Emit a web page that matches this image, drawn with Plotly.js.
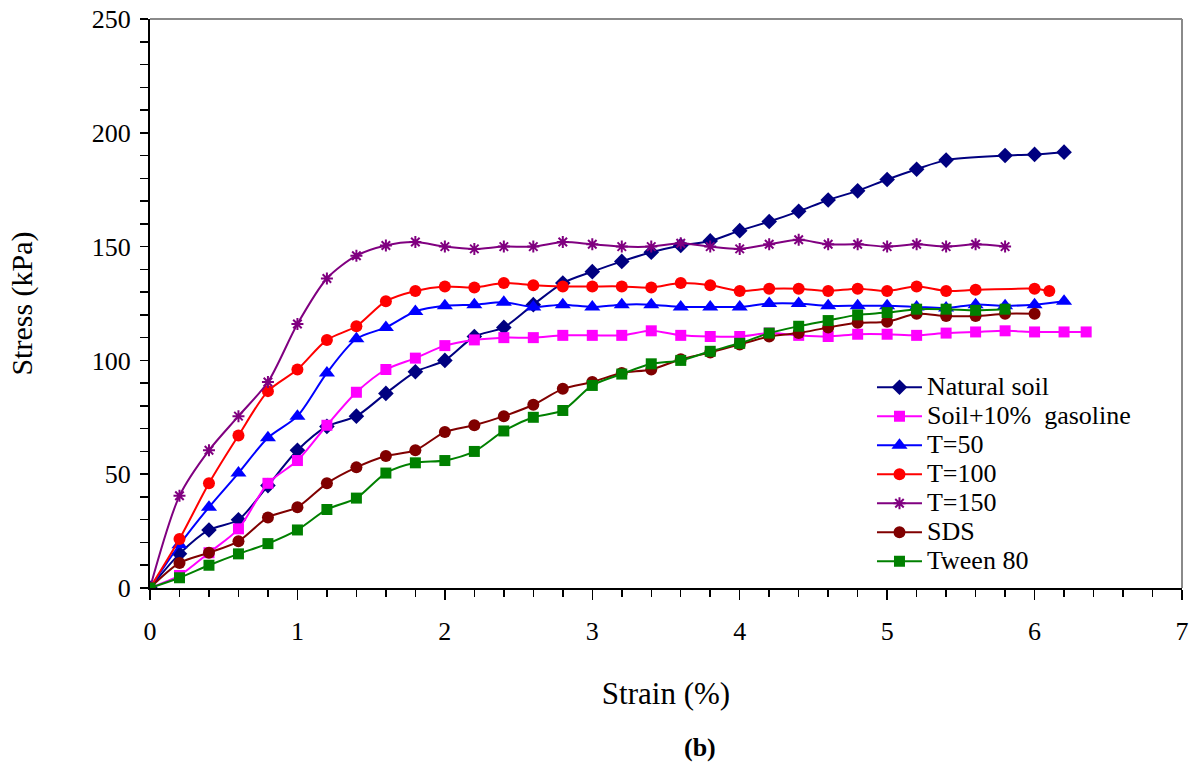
<!DOCTYPE html>
<html>
<head>
<meta charset="utf-8">
<script src="https://cdn.plot.ly/plotly-3.0.1.min.js"></script>
<style>html,body{margin:0;padding:0;background:#fff;}#chart{width:1197px;height:763px;}</style>
</head>
<body>
<div id="chart"></div>
<script>
// Strain (%) values
const naturalX = [0,0.2,0.4,0.6,0.8,1.0,1.2,1.4,1.6,1.8,2.0,2.2,2.4,2.6,2.8,3.0,3.2,3.4,3.6,3.8,4.0,4.2,4.4,4.6,4.8,5.0,5.2,5.4,5.8,6.0,6.2];
const naturalY = [0,15,25.5,30,45,60.5,71,75.5,85.5,95,100,110.5,114.5,124.5,134,139,143.5,147.5,150.5,152.5,157,161,165.5,170.5,174.5,179.5,184,188,190,190.5,191.5];

const gasolineX = [0,0.2,0.4,0.6,0.8,1.0,1.2,1.4,1.6,1.8,2.0,2.2,2.4,2.6,2.8,3.0,3.2,3.4,3.6,3.8,4.0,4.2,4.4,4.6,4.8,5.0,5.2,5.4,5.6,5.8,6.0,6.2,6.35];
const gasolineY = [0,5.5,15.5,26,46,56,71.5,86,96,101,106.5,109,110,110,111,111,111,113,111,110.5,110.5,112,111,110.5,111.5,111.5,111,112,112.5,113,112.5,112.5,112.5];

const t50X = [0,0.2,0.4,0.6,0.8,1.0,1.2,1.4,1.6,1.8,2.0,2.2,2.4,2.6,2.8,3.0,3.2,3.4,3.6,3.8,4.0,4.2,4.4,4.6,4.8,5.0,5.2,5.4,5.6,5.8,6.0,6.2];
const t50Y = [0,19,35.5,50.5,66,75.5,94.5,109.5,114.5,121.5,124,124.5,125.5,123.5,124.5,123.5,124.5,124.5,123.5,123.5,123.5,125,125,124,124,124,123.5,123,124.5,124,124.5,126];

const t100X = [0,0.2,0.4,0.6,0.8,1.0,1.2,1.4,1.6,1.8,2.0,2.2,2.4,2.6,2.8,3.0,3.2,3.4,3.6,3.8,4.0,4.2,4.4,4.6,4.8,5.0,5.2,5.4,5.6,6.0,6.1];
const t100Y = [0,21.5,46,67,86.5,96,109,115,126,130.5,132.5,132,134,133,132.5,132.5,132.5,132,134,133,130.5,131.5,131.5,130.5,131.5,130.5,132.5,130.5,131,131.5,130.5];

const t150X = [0,0.2,0.4,0.6,0.8,1.0,1.2,1.4,1.6,1.8,2.0,2.2,2.4,2.6,2.8,3.0,3.2,3.4,3.6,3.8,4.0,4.2,4.4,4.6,4.8,5.0,5.2,5.4,5.6,5.8];
const t150Y = [0,40.5,60.5,75.5,90.5,116,136,146,150.5,152,150,149,150,150,152,151,150,150,151.5,150,149,151,153,151,151,150,151,150,151,150];

const sdsX = [0,0.2,0.4,0.6,0.8,1.0,1.2,1.4,1.6,1.8,2.0,2.2,2.4,2.6,2.8,3.0,3.2,3.4,3.6,3.8,4.0,4.2,4.4,4.6,4.8,5.0,5.2,5.4,5.6,5.8,6.0];
const sdsY = [0,11,15.5,20.5,31,35.5,46,53,58,60.5,68.5,71.5,75.5,80.5,87.5,90.5,94.5,96,100.5,103.5,107,110.5,112,114.5,116.5,117,120.5,119.5,119.5,120.5,120.5];

const tweenX = [0,0.2,0.4,0.6,0.8,1.0,1.2,1.4,1.6,1.8,2.0,2.2,2.4,2.6,2.8,3.0,3.2,3.4,3.6,3.8,4.0,4.2,4.4,4.6,4.8,5.0,5.2,5.4,5.6,5.8];
const tweenY = [0,4.5,10,15,19.5,25.5,34.5,39.5,50.5,55,56,60,69,75,78,89,94,98.5,100,104,107.5,112,115,117.5,120,121,122.5,122.5,122,122.5];

const seriesNames = ["Natural soil","Soil+10%  gasoline","T=50","T=100","T=150","SDS","Tween 80"];
const xTickVals = [0,1,2,3,4,5,6,7];
const yTickVals = [0,50,100,150,200,250];

const FONT = "Liberation Serif, Times New Roman, serif";

function tr(name, x, y, color, symbol, size, extra) {
  const m = {color: color, symbol: symbol, size: size};
  if (extra) Object.assign(m, extra);
  return {
    type: 'scatter', mode: 'lines+markers',
    name: '<span style="font-size:26px">' + name + '</span>',
    x: x, y: y,
    line: {color: color, width: 2, shape: 'spline', smoothing: 0.8},
    marker: m
  };
}

const data = [
  tr(seriesNames[0], naturalX, naturalY, '#000080', 'diamond', 12),
  tr(seriesNames[1], gasolineX, gasolineY, '#FF00FF', 'square', 11),
  tr(seriesNames[2], t50X, t50Y, '#0000FF', 'triangle-up', 14),
  tr(seriesNames[3], t100X, t100Y, '#FF0000', 'circle', 12),
  tr(seriesNames[4], t150X, t150Y, '#800080', 'asterisk-open', 10, {line: {color: '#800080', width: 2}}),
  tr(seriesNames[5], sdsX, sdsY, '#800000', 'circle', 12),
  tr(seriesNames[6], tweenX, tweenY, '#008000', 'square', 11)
];

const layout = {
  width: 1197, height: 763,
  margin: {l: 150, r: 15, t: 19, b: 175},
  paper_bgcolor: '#fff', plot_bgcolor: '#fff',
  font: {family: FONT, color: '#000', size: 26},
  showlegend: true,
  legend: {
    x: 0.6996, y: 0.387, xanchor: 'left', yanchor: 'top',
    bgcolor: 'rgba(0,0,0,0)', borderwidth: 0,
    font: {family: FONT, size: 20, color: '#000'},
    itemwidth: 45,
    tracegroupgap: 0
  },
  xaxis: {
    range: [0, 7], tickvals: xTickVals, ticktext: xTickVals.map(String),
    showgrid: false, zeroline: false,
    showline: true, linecolor: '#000', linewidth: 2,
    ticks: 'outside', ticklen: 10, tickwidth: 1.5, tickcolor: '#000',
    minor: {dtick: 0.2, ticks: 'outside', ticklen: 7, tickwidth: 1.5, tickcolor: '#000', showgrid: false},
    ticklabelstandoff: 9,
    tickfont: {family: FONT, size: 26},
    title: {text: 'Strain (%)', font: {family: FONT, size: 31}, standoff: 37}
  },
  yaxis: {
    range: [0, 250], tickvals: yTickVals, ticktext: yTickVals.map(String),
    showgrid: false, zeroline: false,
    showline: true, linecolor: '#000', linewidth: 2,
    ticks: 'outside', ticklen: 8, tickwidth: 1.5, tickcolor: '#000',
    minor: {dtick: 10, ticks: 'outside', ticklen: 8, tickwidth: 1.5, tickcolor: '#000', showgrid: false},
    ticklabelstandoff: 4,
    tickfont: {family: FONT, size: 26},
    title: {text: 'Stress (kPa)', font: {family: FONT, size: 30}, standoff: 50}
  },
  shapes: [
    {type: 'line', xref: 'paper', yref: 'paper', x0: 0, x1: 1, y0: 1, y1: 1, line: {color: '#8a8a8a', width: 2}, layer: 'below'},
    {type: 'line', xref: 'paper', yref: 'paper', x0: 1, x1: 1, y0: 0, y1: 1, line: {color: '#8a8a8a', width: 2}, layer: 'below'}
  ],
  annotations: [
    {text: '<b>(b)</b>', xref: 'paper', yref: 'paper', x: 0.533, y: -0.252, xanchor: 'center', yanchor: 'top', showarrow: false, font: {family: FONT, size: 26, color: '#000'}}
  ]
};

Plotly.newPlot('chart', data, layout, {displayModeBar: false, staticPlot: true});
</script>
</body>
</html>
